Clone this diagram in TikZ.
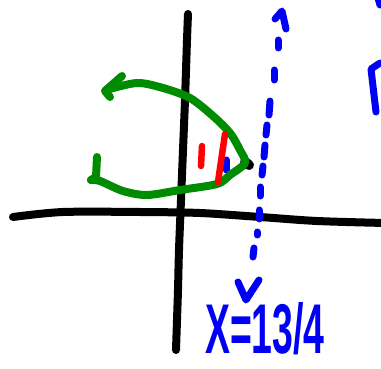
\documentclass[tikz,border=0pt]{standalone}
\usepackage{fontspec}
\setmainfont{Liberation Sans}
\begin{document}
\begin{tikzpicture}[x=1pt,y=-1pt,
  pen/.style={line width=#1, line cap=round, line join=round},
  axisline/.style={pen=8pt, black},
  greenline/.style={pen=8pt, draw=sketchgreen},
  blueline/.style={pen=7pt, draw=sketchblue},
  redline/.style={pen=6.5pt, draw=sketchred}]
\definecolor{sketchgreen}{RGB}{0,140,0}
\definecolor{sketchblue}{RGB}{0,0,245}
\definecolor{sketchred}{RGB}{255,0,0}
\useasboundingbox (0,0) rectangle (381,369);
% axes
\draw[axisline] plot[smooth] coordinates {(13,217) (63,212) (140,212) (200,213) (260,217) (317,221) (385,223)};
\draw[axisline] plot[smooth] coordinates {(188,14) (187,40) (185,100) (183,150) (181,200) (179,250) (178,290) (177,320) (176,350)};
% blue dashed arrow
\coordinate (topTip) at (282,11);
\coordinate (botTip) at (246,300);
\foreach \a/\b in {{278,40}/{278,48},{274,70}/{274,80},{270,101}/{269,115},{267,125}/{266,135},{265,145}/{264,157},{263,166}/{262,175},{260,187}/{260,196},{259,210}/{259,219},{257,232}/{257,235},{254,248}/{253,257}}
  \draw[blueline] (\a) -- (\b);
\draw[blueline] (275,19) -- (topTip) -- (286,29);
\draw[blueline] (238,282) -- (botTip) -- (259,280);
% blue marks near right edge
\draw[blueline] (380,63) -- (371,69) -- (376,112);
\draw[blueline] (378,-2) -- (380,5);
% small blue mark behind red
\draw[blueline] (226,160) -- (226,170);
% black dot
\draw[pen=10pt, black] (245,162) -- (249,165);
% green curve
\draw[greenline] plot[smooth] coordinates {(106,90) (137,83) (163,88) (190,98) (213,116) (230,133) (240,150) (245,163) (230,175) (217,184) (180,190) (147,195) (123,191) (100,181) (91,180)};
\draw[greenline] (122,76) -- (105,91) -- (110,97);
\draw[greenline] (97,157) -- (96,177) -- (91,180);
% red marks
\draw[redline] (202,146) -- (201,166);
\draw[redline] (225,134) -- (218,182);
% label
\node[text=sketchblue, font=\bfseries\fontsize{44}{44}\selectfont, inner sep=0pt, xscale=0.85, yscale=1.6, anchor=base west] (lbl) at (205,353) {X=13/4};
\end{tikzpicture}
\end{document}
